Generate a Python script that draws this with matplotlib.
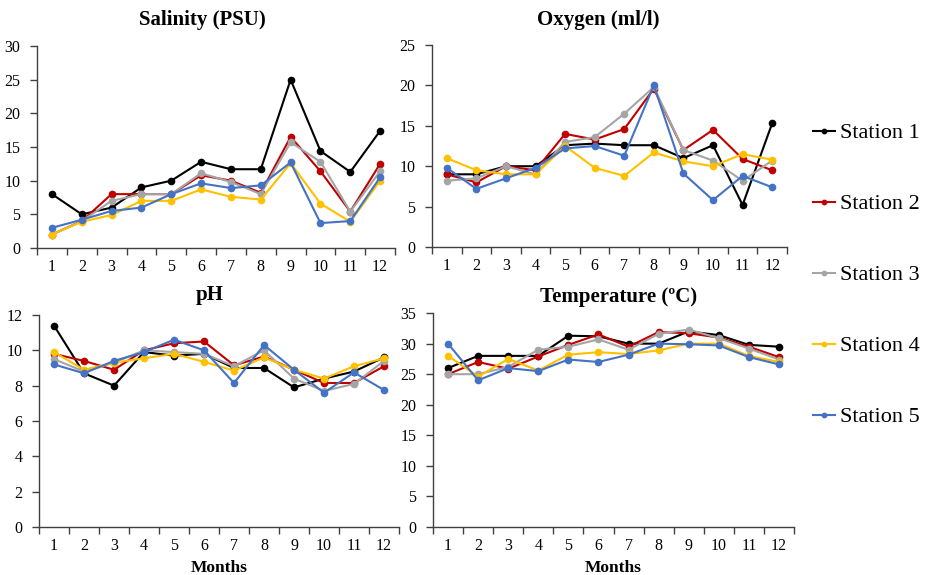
import matplotlib.pyplot as plt
import numpy as np

plt.rcParams['font.family'] = ['Liberation Serif', 'DejaVu Serif']

months = list(range(1, 13))
stations = ['Station 1', 'Station 2', 'Station 3', 'Station 4', 'Station 5']
colors = ['#000000', '#C00000', '#A5A5A5', '#FFC000', '#4472C4']

salinity = [
    [8, 5, 6, 9, 10, 12.8, 11.7, 11.7, 25, 14.4, 11.3, 17.4],
    [2, 4, 8, 8, 8, 10.8, 10, 8.2, 16.5, 11.4, 5.4, 12.5],
    [2, 4, 7, 8, 8, 11.1, 9.8, 8, 15.7, 12.8, 5.4, 11.4],
    [2, 3.9, 4.9, 7, 7, 8.7, 7.6, 7.2, 12.6, 6.6, 3.9, 10],
    [3, 4.2, 5.5, 6, 8, 9.6, 8.9, 9.3, 12.7, 3.7, 4, 10.5],
]
oxygen = [
    [9, 9, 10, 10, 12.6, 12.8, 12.6, 12.6, 11, 12.6, 5.2, 15.3],
    [9, 8, 10, 9.5, 14, 13.3, 14.6, 19.6, 12, 14.5, 10.9, 9.5],
    [8.2, 8.5, 10, 9, 13, 13.6, 16.5, 19.8, 12, 10.7, 8.2, 10.7],
    [11, 9.5, 9, 9, 12.5, 9.8, 8.8, 11.7, 10.6, 10, 11.5, 10.8],
    [9.8, 7.2, 8.5, 9.8, 12.2, 12.5, 11.3, 20, 9.1, 5.8, 8.8, 7.4],
]
ph = [
    [11.4, 8.7, 8, 9.9, 9.7, 9.8, 9, 9, 7.9, 8.4, 8.8, 9.6],
    [9.8, 9.4, 8.9, 10, 10.4, 10.5, 9.15, 9.65, 8.9, 8.15, 8.15, 9.1],
    [9.5, 8.8, 9.3, 10, 9.9, 9.8, 9.1, 10, 8.4, 7.7, 8.1, 9.4],
    [9.9, 8.9, 9.3, 9.55, 9.8, 9.35, 8.85, 9.6, 8.9, 8.4, 9.1, 9.55],
    [9.2, 8.7, 9.4, 9.9, 10.6, 10, 8.15, 10.3, 8.9, 7.6, 8.75, 7.75],
]
temperature = [
    [26, 28, 28, 28, 31.3, 31.2, 30, 30, 32, 31.4, 29.8, 29.5],
    [25, 27, 25.9, 27.9, 29.8, 31.5, 29.5, 31.9, 31.7, 31, 29.5, 27.8],
    [25, 25, 26.2, 29, 29.5, 30.7, 29, 31.6, 32.3, 30.9, 29.2, 27.4],
    [28, 24.6, 27.5, 25.6, 28.2, 28.6, 28.3, 28.9, 30, 30, 28, 27],
    [30, 24, 26, 25.5, 27.4, 27, 28.2, 30, 29.9, 29.7, 27.8, 26.6],
]

panels = [
    (salinity, 'Salinity (PSU)', 30, 5, [0.0399, 0.5687, 0.3858, 0.3513], (202, 20), False),
    (oxygen, 'Oxygen (ml/l)', 25, 5, [0.4655, 0.5704, 0.3825, 0.3513], (598, 20), False),
    (ph, 'pH', 12, 2, [0.042, 0.0835, 0.388, 0.3687], (210, 295), True),
    (temperature, 'Temperature (ºC)', 35, 5, [0.4666, 0.0835, 0.389, 0.372], (619, 297), True),
]

W, H = 928, 575
fig = plt.figure(figsize=(W / 100, H / 100), dpi=100)

handles = []
for data, title, ymax, step, rect, tpos, show_xlabel in panels:
    ax = fig.add_axes(rect)
    hs = []
    for vals, c, name in zip(data, colors, stations):
        h, = ax.plot(months, vals, color=c, lw=1.5, marker='o', markersize=4.5,
                     label=name)
        hs.append(h)
    handles = hs
    ax.set_xlim(0.5, 12.5)
    ax.set_ylim(0, ymax)
    ax.set_yticks(np.arange(0, ymax + 0.1, step))
    # category axis: ticks between months, labels at month centres
    ax.set_xticks(np.arange(0.5, 12.6, 1))
    ax.set_xticklabels([])
    ax.set_xticks(months, minor=True)
    ax.set_xticklabels([str(m) for m in months], minor=True)
    ax.tick_params(axis='x', which='major', direction='out', length=5, width=1, color='#404040')
    ax.tick_params(axis='x', which='minor', length=0, pad=8, labelsize=11.5)
    ax.tick_params(axis='y', direction='out', length=5, width=1, color='#404040',
                   pad=7, labelsize=11.5)
    for s in ['top', 'right']:
        ax.spines[s].set_visible(False)
    for s in ['left', 'bottom']:
        ax.spines[s].set_color('#404040')
        ax.spines[s].set_linewidth(1)
    fig.text(tpos[0] / W, 1 - tpos[1] / H, title, ha='center', va='center',
             fontsize=15, fontweight='bold')
    if show_xlabel:
        cx = (rect[0] + rect[2] / 2)
        fig.text(cx, 1 - 568 / H, 'Months', ha='center', va='center',
                 fontsize=12.5, fontweight='bold')

fig.legend(handles=handles, labels=stations, loc='center left',
           bbox_to_anchor=(813 / W, 1 - 275 / H), frameon=False,
           fontsize=16, handlelength=1.0, handletextpad=0.23,
           labelspacing=2.27, markerscale=0.7, borderpad=0, borderaxespad=0)

fig.savefig('out.png', dpi=100)
